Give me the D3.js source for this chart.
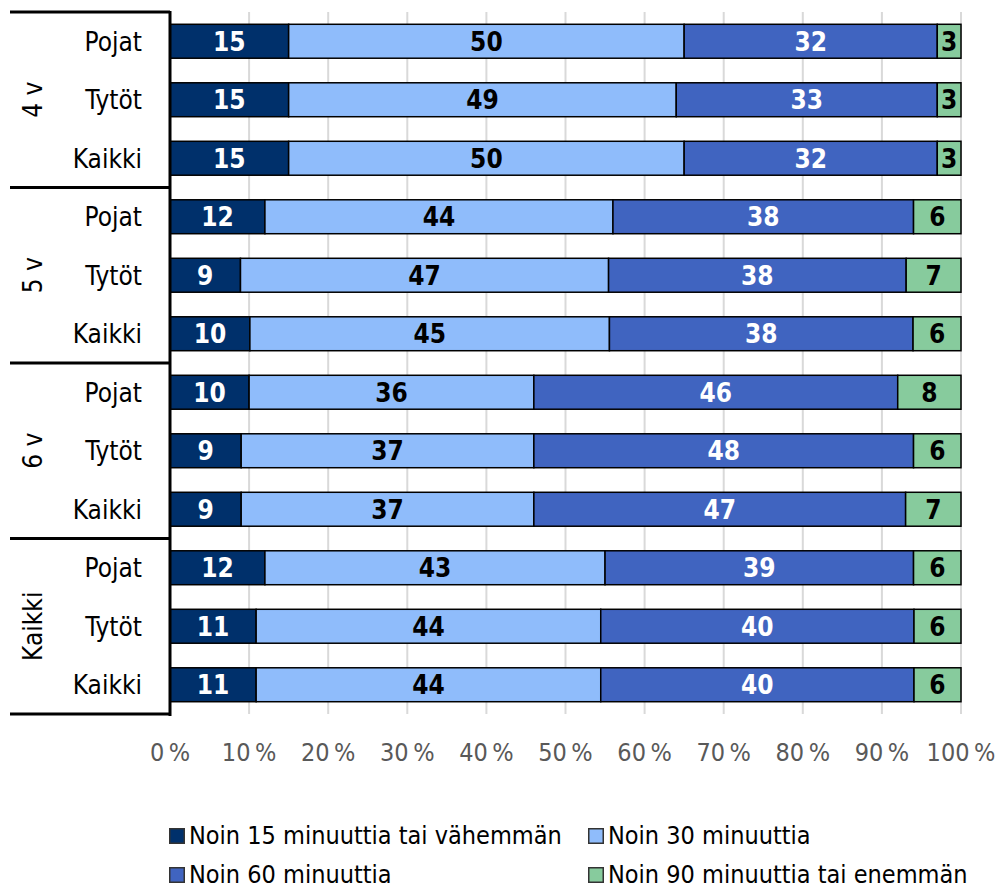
<!DOCTYPE html>
<html><head><meta charset="utf-8">
<script src="https://cdn.jsdelivr.net/npm/d3@7"></script>
<style>body{margin:0;background:#fff}svg{display:block}</style>
</head><body>
<script>
const groups = ["4 v","5 v","6 v","Kaikki"];
const subgroups = ["Pojat","Tytöt","Kaikki"];
const seriesNames = ["Noin 15 minuuttia tai vähemmän","Noin 30 minuuttia","Noin 60 minuuttia","Noin 90 minuuttia tai enemmän"];
const colors = ["#00306b","#8fbcfb","#4064c0","#87cb9d"];
const labelColors = ["#ffffff","#000000","#ffffff","#000000"];
const s15 = [15,15,15, 12,9,10, 10,9,9, 12,11,11];
const s30 = [50,49,50, 44,47,45, 36,37,37, 43,44,44];
const s60 = [32,33,32, 38,38,38, 46,48,47, 39,40,40];
const s90 = [3,3,3, 6,7,6, 8,6,7, 6,6,6];
const ticks = [0,10,20,30,40,50,60,70,80,90,100];
const tickLabels = ticks.map(t => t + "\u2009%");

const W = 998, H = 889;
const FONT = "'DejaVu Sans Condensed','Liberation Sans Narrow',sans-serif";
const svg = d3.select("body").append("svg").attr("width", W).attr("height", H)
  .style("font-family", FONT);

const rows = [];
groups.forEach((g, gi) => subgroups.forEach((s, si) => rows.push({g, s, id: gi*3+si})));
const series = [s15, s30, s60, s90];
const data = rows.map((r, i) => {
  const vals = series.map(a => a[i]);
  const tot = d3.sum(vals);
  let c = 0;
  return {id: r.id, s: r.s, segs: vals.map((v, k) => { const x0 = c/tot; c += v; return {k, v, x0, x1: c/tot}; })};
});

const x = d3.scaleLinear().domain([0, 100]).range([170, 961]);
const y = d3.scaleBand().domain(d3.range(rows.length)).range([12, 714]).paddingInner(0.42).paddingOuter(0.21);
const gy = d3.scaleBand().domain(groups).range([12, 714]);

// gridlines
svg.append("g").selectAll("line").data(ticks.slice(1)).join("line")
  .attr("x1", d => x(d)).attr("x2", d => x(d)).attr("y1", 12).attr("y2", 714)
  .attr("stroke", "#d9d9d9").attr("stroke-width", 2);

// bars
const rowG = svg.append("g").selectAll("g").data(data).join("g");
rowG.selectAll("rect").data(d => d.segs.map(s => ({...s, id: d.id}))).join("rect")
  .attr("x", d => x(d.x0*100)).attr("width", d => x(d.x1*100) - x(d.x0*100))
  .attr("y", d => y(d.id)).attr("height", y.bandwidth())
  .attr("fill", d => colors[d.k]).attr("stroke", "#000").attr("stroke-width", 1.5);
rowG.selectAll("text").data(d => d.segs.map(s => ({...s, id: d.id}))).join("text")
  .attr("x", d => (x(d.x0*100) + x(d.x1*100)) / 2).attr("y", d => y(d.id) + y.bandwidth()/2)
  .attr("dy", "0.36em").attr("text-anchor", "middle")
  .attr("font-size", 26).attr("font-weight", "bold").attr("fill", d => labelColors[d.k])
  .text(d => d.v);

// axis lines
svg.append("line").attr("x1", 170).attr("x2", 170).attr("y1", 11).attr("y2", 716)
  .attr("stroke", "#000").attr("stroke-width", 3);
svg.append("g").selectAll("line").data(d3.range(groups.length + 1)).join("line")
  .attr("x1", 10).attr("x2", 170)
  .attr("y1", i => i < groups.length ? gy(groups[i]) : gy(groups[groups.length-1]) + gy.bandwidth())
  .attr("y2", i => i < groups.length ? gy(groups[i]) : gy(groups[groups.length-1]) + gy.bandwidth())
  .attr("stroke", "#000").attr("stroke-width", 3);

// category labels
svg.append("g").selectAll("text").data(rows).join("text")
  .attr("x", 142).attr("y", (d, i) => y(i) + y.bandwidth()/2).attr("dy", "0.36em")
  .attr("text-anchor", "end").attr("font-size", 26).attr("fill", "#000").text(d => d.s);

// group labels
svg.append("g").selectAll("text").data(groups).join("text")
  .attr("transform", d => `translate(33,${gy(d) + gy.bandwidth()/2}) rotate(-90)`)
  .attr("dy", "0.36em").attr("text-anchor", "middle").attr("font-size", 26).attr("fill", "#000").text(d => d);

// tick labels
svg.append("g").selectAll("text").data(ticks).join("text")
  .attr("x", d => x(d)).attr("y", 761).attr("text-anchor", "middle")
  .attr("font-size", 25).attr("fill", "#595959").text((d, i) => tickLabels[i]);

// legend
const legPos = [[169, 828], [588, 828], [169, 867], [588, 867]];
const leg = svg.append("g").selectAll("g").data(seriesNames).join("g")
  .attr("transform", (d, i) => `translate(${legPos[i][0]},${legPos[i][1]})`);
leg.append("rect").attr("x", 0.75).attr("y", 0.75).attr("width", 14.5).attr("height", 14.5)
  .attr("fill", (d, i) => colors[i]).attr("stroke", "#333").attr("stroke-width", 1.5);
leg.append("text").attr("x", 20).attr("y", 16).attr("font-size", 25).attr("fill", "#000").text(d => d);
</script>
</body></html>
